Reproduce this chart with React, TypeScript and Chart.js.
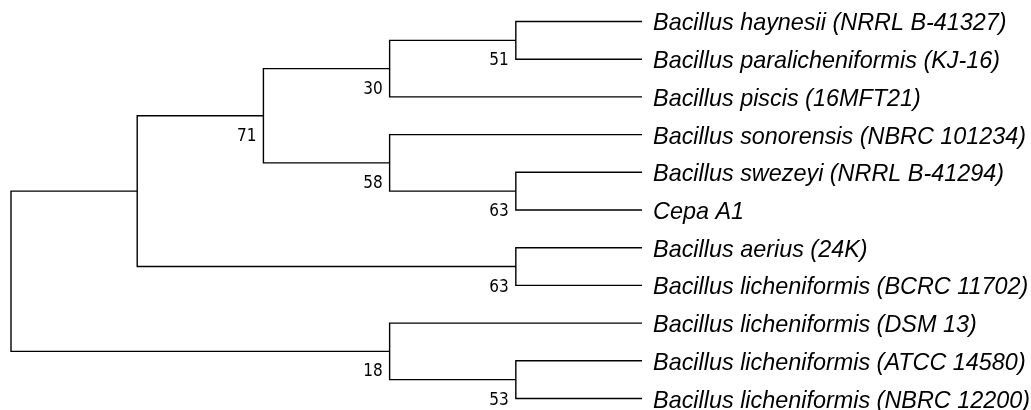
import React, { useEffect, useRef } from "react";
import { Chart, registerables } from "chart.js";

Chart.register(...registerables);

// Terminal taxa, top to bottom
const taxa: string[] = [
  "Bacillus haynesii (NRRL B-41327)",
  "Bacillus paralicheniformis (KJ-16)",
  "Bacillus piscis (16MFT21)",
  "Bacillus sonorensis (NBRC 101234)",
  "Bacillus swezeyi (NRRL B-41294)",
  "Cepa A1",
  "Bacillus aerius (24K)",
  "Bacillus licheniformis (BCRC 11702)",
  "Bacillus licheniformis (DSM 13)",
  "Bacillus licheniformis (ATCC 14580)",
  "Bacillus licheniformis (NBRC 12200)",
];

// Internal clades: two children each ("t#" = taxon index, "c#" = clade index)
const cladeChildren: [string, string][] = [
  ["t0", "t1"], // c0
  ["c0", "t2"], // c1
  ["t4", "t5"], // c2
  ["t3", "c2"], // c3
  ["c1", "c3"], // c4
  ["t6", "t7"], // c5
  ["c4", "c5"], // c6
  ["t9", "t10"], // c7
  ["t8", "c7"], // c8
  ["c6", "c8"], // c9 (root)
];

// Bootstrap support per clade (null = not shown)
const cladeSupport: (number | null)[] = [51, 30, 63, 58, 71, 63, null, 53, 18, null];

type Pos = { x: number; y: number; h: number };

function layoutTree() {
  const pos: Record<string, Pos> = {};
  taxa.forEach((_, i) => {
    pos["t" + i] = { x: 0, y: i, h: 0 };
  });
  cladeChildren.forEach(([a, b], k) => {
    const pa = pos[a];
    const pb = pos[b];
    pos["c" + k] = { x: 0, y: (pa.y + pb.y) / 2, h: 1 + Math.max(pa.h, pb.h) };
  });
  const maxH = pos["c" + (cladeChildren.length - 1)].h;
  Object.keys(pos).forEach((key) => {
    pos[key].x = maxH - pos[key].h;
  });
  return { pos, maxH };
}

export default function App() {
  const canvasRef = useRef<HTMLCanvasElement | null>(null);

  useEffect(() => {
    const canvas = canvasRef.current;
    if (!canvas) return;
    const { pos, maxH } = layoutTree();

    // one bracket polyline per clade
    const datasets = cladeChildren.map(([a, b], k) => {
      const n = pos["c" + k];
      const pa = pos[a];
      const pb = pos[b];
      return {
        label: "c" + k,
        data: [
          { x: pa.x, y: pa.y },
          { x: n.x, y: pa.y },
          { x: n.x, y: pb.y },
          { x: pb.x, y: pb.y },
        ],
        showLine: true,
        borderColor: "#000000",
        borderWidth: 1.4,
        borderJoinStyle: "miter" as const,
        borderCapStyle: "butt" as const,
        pointRadius: 0,
        pointHoverRadius: 0,
        fill: false,
        tension: 0,
      };
    });

    const labelsPlugin = {
      id: "treeLabels",
      afterDatasetsDraw(chart: any) {
        const ctx = chart.ctx as CanvasRenderingContext2D;
        const xs = chart.scales.x;
        const ys = chart.scales.y;
        ctx.save();
        ctx.fillStyle = "#000000";
        // taxon names at the tips
        ctx.font = "italic 23.4px 'Liberation Sans', Arial, sans-serif";
        ctx.textAlign = "left";
        ctx.textBaseline = "alphabetic";
        taxa.forEach((name, i) => {
          const px = xs.getPixelForValue(maxH) + 11;
          const py = ys.getPixelForValue(i) + 9;
          ctx.fillText(name, px, py);
        });
        // bootstrap values below-left of each node
        ctx.font = "17px 'DejaVu Sans Condensed', 'Open Sans', sans-serif";
        ctx.textAlign = "right";
        cladeChildren.forEach((_, k) => {
          const v = cladeSupport[k];
          if (v == null) return;
          const n = pos["c" + k];
          const px = xs.getPixelForValue(n.x) - 7;
          const py = ys.getPixelForValue(n.y) + 25;
          ctx.fillText(String(v), px, py);
        });
        ctx.restore();
      },
    };

    const chart = new Chart(canvas, {
      type: "scatter",
      data: { datasets },
      options: {
        animation: false,
        responsive: false,
        maintainAspectRatio: false,
        layout: { padding: 0 },
        events: [],
        plugins: {
          legend: { display: false },
          tooltip: { enabled: false },
        },
        scales: {
          x: { type: "linear", display: false, min: -0.0872, max: 8.082 },
          y: { type: "linear", display: false, reverse: true, min: -0.57, max: 10.305 },
        },
      },
      plugins: [labelsPlugin],
    });

    return () => chart.destroy();
  }, []);

  return (
    <div
      style={{
        position: "fixed",
        left: 0,
        top: 0,
        width: 1031,
        height: 410,
        background: "#ffffff",
      }}
    >
      <canvas ref={canvasRef} width={1031} height={410} style={{ display: "block" }} />
    </div>
  );
}
